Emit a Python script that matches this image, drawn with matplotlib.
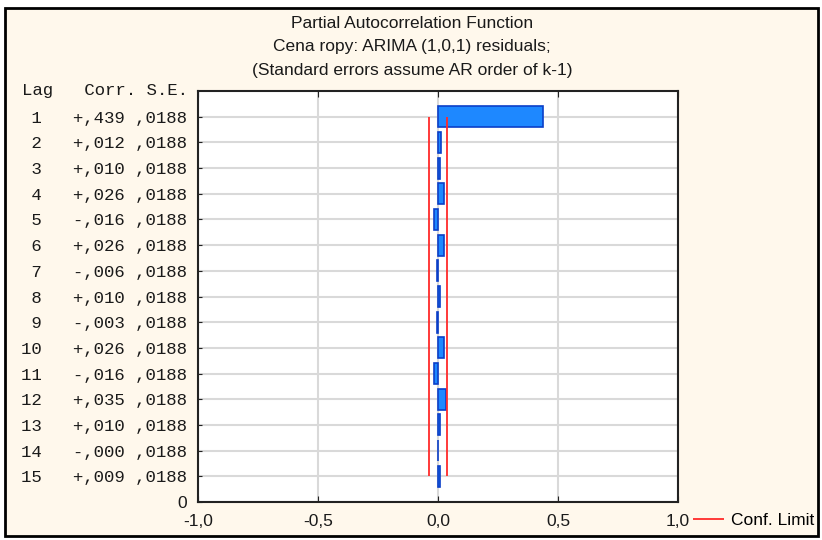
import matplotlib
matplotlib.use("Agg")
import matplotlib.pyplot as plt
from matplotlib.patches import Rectangle

# --- PACF of ARIMA(1,0,1) residuals ---
lags = list(range(1, 16))
corr = [0.439, 0.012, 0.010, 0.026, -0.016, 0.026, -0.006, 0.010,
        -0.003, 0.026, -0.016, 0.035, 0.010, -0.000, 0.009]
corr_txt = ["+,439", "+,012", "+,010", "+,026", "-,016", "+,026", "-,006", "+,010",
            "-,003", "+,026", "-,016", "+,035", "+,010", "-,000", "+,009"]
se = [0.0188] * 15
se_txt = [",0188"] * 15
xticks = [-1.0, -0.5, 0.0, 0.5, 1.0]
xtick_labels = ["-1,0", "-0,5", "0,0", "0,5", "1,0"]

mono = "Liberation Mono"
sans = "Liberation Sans"

fig = plt.figure(figsize=(8.22, 5.40), dpi=100, facecolor="white")
fig.patches.append(Rectangle((5 / 822, 1 - 536 / 540), 813 / 822, 528 / 540,
                             transform=fig.transFigure, facecolor="#FFF8EC",
                             edgecolor="black", linewidth=2, zorder=-10))

ax = fig.add_axes([198 / 822, 1 - 502 / 540, 480 / 822, 411 / 540])
ax.set_facecolor("white")

n = len(lags)
ypos = [n + 1 - k for k in lags]  # lag 1 on top

ax.barh(ypos, corr, height=0.82, left=0, color="#1E88FF",
        edgecolor="#0B3FC8", linewidth=1.2, zorder=3)

# confidence limits at +/- 2 S.E.
lim = [2 * s for s in se]
ax.vlines([lim[0], -lim[0]], min(ypos), max(ypos), colors="#FF2A2A",
          linewidth=1.3, zorder=4, label="Conf. Limit")

ax.set_xlim(-1.0, 1.0)
ax.set_ylim(0, n + 1)
ax.set_xticks(xticks)
ax.set_xticklabels(xtick_labels, fontfamily=sans, fontsize=12.5)
ax.set_yticks([0] + ypos)
rows = [f"{k:>2}   {c} {s}" for k, c, s in zip(lags, corr_txt, se_txt)]
ax.set_yticklabels(["0"] + rows, fontfamily=mono, fontsize=12.5)
ax.get_yticklabels()[0].set_fontfamily(sans)

ax.tick_params(axis="x", direction="in", length=4, top=True, pad=9, colors="#222222")
ax.tick_params(axis="y", direction="in", length=3, pad=8, colors="#222222")
for lbl in ax.get_xticklabels() + ax.get_yticklabels():
    lbl.set_color("#1a1a1a")

ax.grid(True, color="#D9D9D9", linewidth=1.5, zorder=0)
ax.set_axisbelow(True)
for sp in ax.spines.values():
    sp.set_color("#222222")
    sp.set_linewidth(1.5)

fig.text(188 / 822, 1 - 90 / 540, "Lag   Corr. S.E.", ha="right", va="center",
         fontfamily=mono, fontsize=12.5, color="#1a1a1a")

titles = ["Partial Autocorrelation Function",
          "Cena ropy: ARIMA (1,0,1) residuals;",
          "(Standard errors assume AR order of k-1)"]
for t, y in zip(titles, [24, 46, 70]):
    fig.text(412 / 822, 1 - y / 540, t, ha="center", va="center",
             fontfamily=sans, fontsize=12.5, color="#1a1a1a")

fig.legend(loc="center left", bbox_to_anchor=(693 / 822, 1 - 520 / 540),
           frameon=False, prop={"family": sans, "size": 12.5},
           handlelength=1.8, handletextpad=0.4, borderpad=0, borderaxespad=0)

fig.savefig("out.png", dpi=100, facecolor="white")
